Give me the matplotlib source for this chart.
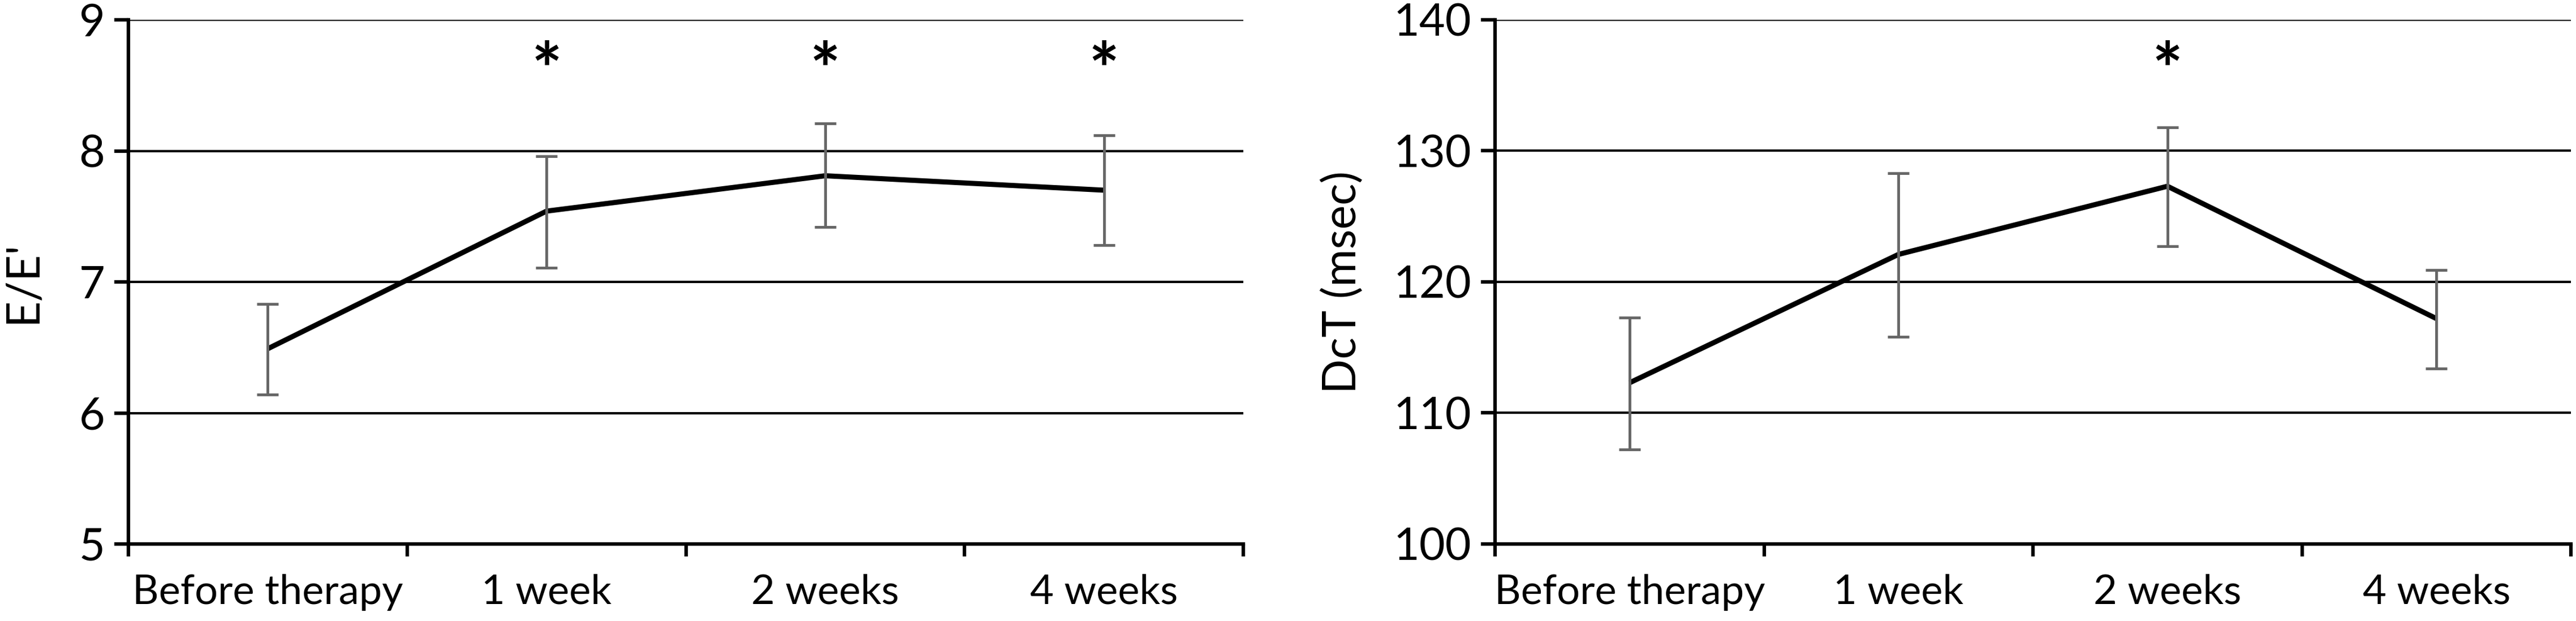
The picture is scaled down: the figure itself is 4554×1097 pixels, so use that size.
import numpy as np
import matplotlib
matplotlib.use("Agg")
import matplotlib.pyplot as plt
from matplotlib.ticker import FixedLocator, NullFormatter

plt.rcParams['font.family'] = ['Lato', 'DejaVu Sans']

# data
categories = ["Before therapy", "1 week", "2 weeks", "4 weeks"]

ee_mean = [6.49, 7.54, 7.81, 7.70]
ee_low = [6.14, 7.11, 7.42, 7.28]
ee_high = [6.83, 7.96, 8.21, 8.12]
ee_star = [False, True, True, True]

dct_mean = [112.3, 122.1, 127.3, 117.2]
dct_low = [107.2, 115.8, 122.7, 113.4]
dct_high = [117.3, 128.3, 131.8, 120.9]
dct_star = [False, False, True, False]


def draw_panel(ax, mean, low, high, stars, ylim, yticks, ylabel, star_y):
    x = np.arange(len(categories))
    mean = np.array(mean)
    err = [mean - np.array(low), np.array(high) - mean]

    for t in yticks[1:]:
        ax.axhline(t, color="black", lw=3, zorder=1)

    ax.plot(x, mean, color="black", lw=6.5, zorder=2, solid_capstyle="butt")
    ax.errorbar(x, mean, yerr=err, fmt="none", ecolor="#666666",
                elinewidth=3.5, capsize=13.5, capthick=3.5, zorder=3)

    for xi, s in zip(x, stars):
        if s:
            ax.text(xi, star_y, "*", ha="center", va="center",
                    fontsize=92, fontweight="bold")

    ax.set_xlim(-0.5, len(categories) - 0.5)
    ax.set_ylim(*ylim)
    ax.set_yticks(yticks)
    ax.tick_params(axis="y", labelsize=57, length=18, width=4.5, pad=12)

    ax.xaxis.set_major_locator(FixedLocator(np.arange(-0.5, len(categories), 1.0)))
    ax.xaxis.set_major_formatter(NullFormatter())
    ax.xaxis.set_minor_locator(FixedLocator(x))
    ax.set_xticklabels(categories, minor=True)
    ax.tick_params(axis="x", which="major", length=16, width=4.5)
    ax.tick_params(axis="x", which="minor", length=0, labelsize=52, pad=38)

    for side in ["top", "right"]:
        ax.spines[side].set_visible(False)
    for side in ["left", "bottom"]:
        ax.spines[side].set_linewidth(4.5)
        ax.spines[side].set_zorder(4)

    ax.set_ylabel(ylabel, fontsize=58)


fig = plt.figure(figsize=(45.54, 10.97), dpi=100)
ax1 = fig.add_axes([227 / 4554, 136 / 1097, (2198 - 227) / 4554, 926 / 1097])
ax2 = fig.add_axes([2643 / 4554, 136 / 1097, (4545 - 2643) / 4554, 926 / 1097])

draw_panel(ax1, ee_mean, ee_low, ee_high, ee_star, (5, 9),
           [5, 6, 7, 8, 9], "E/E'", 8.58)
draw_panel(ax2, dct_mean, dct_low, dct_high, dct_star, (100, 140),
           [100, 110, 120, 130, 140], "DcT (msec)", 135.8)

ax1.yaxis.set_label_coords(-0.076, 0.5)
ax2.yaxis.set_label_coords(-0.122, 0.5)

fig.savefig("out.png", dpi=100)
